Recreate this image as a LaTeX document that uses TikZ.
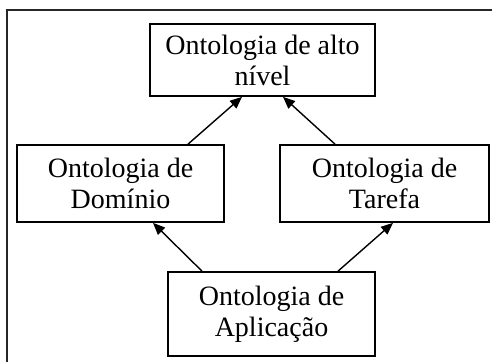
\documentclass[tikz,border=0pt]{standalone}
\usepackage{fontspec}
\setmainfont{Liberation Serif}
\usetikzlibrary{arrows.meta}
\begin{document}
\begin{tikzpicture}[x=1pt,y=1pt,
  onto/.style={draw=black,line width=1.7pt,align=center,inner sep=0pt,
    font=\fontsize{28}{31}\selectfont},
  conn/.style={line width=1.4pt,-{Triangle[length=12pt,width=10pt]}}]
\useasboundingbox (0,0) rectangle (492,362);
\draw[line width=1.5pt,black!85] (7,0) -- (7,352) -- (492,352);
\node[onto,minimum width=225pt,minimum height=72pt] (t) at (262.5,302) {Ontologia de alto\\n\'ivel};
\node[onto,minimum width=207pt,minimum height=77pt] (l) at (120.5,178.5) {Ontologia de\\Dom\'inio};
\node[onto,minimum width=209pt,minimum height=77pt] (r) at (384.5,178.5) {Ontologia de\\Tarefa};
\node[onto,minimum width=207pt,minimum height=84pt] (b) at (271.5,48) {Ontologia de\\Aplica\c{c}\~ao};
\draw[conn] ([xshift=67.5pt]l.north) -- ([xshift=-20.5pt]t.south);
\draw[conn] ([xshift=-49.5pt]r.north) -- ([xshift=20.5pt]t.south);
\draw[conn] ([xshift=-69.5pt]b.north) -- ([xshift=32.5pt]l.south);
\draw[conn] ([xshift=66.5pt]b.north) -- ([xshift=8.5pt]r.south);
\end{tikzpicture}
\end{document}
